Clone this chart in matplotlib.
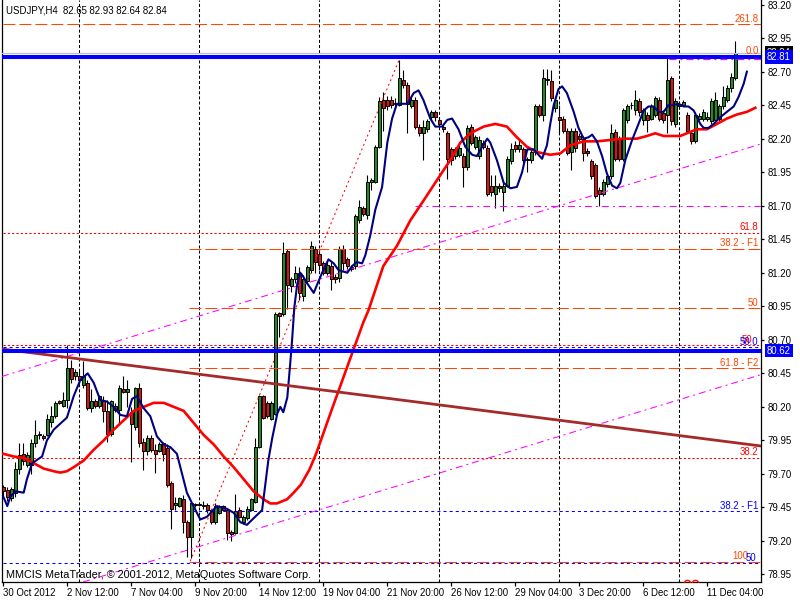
import matplotlib
matplotlib.use("Agg")
import matplotlib.pyplot as plt
import numpy as np

plt.rcParams['font.family'] = ['Liberation Sans', 'DejaVu Sans']
plt.rcParams['lines.scale_dashes'] = False

# ---------------- data ----------------
title_text = "USDJPY,H4  82.65 82.93 82.64 82.84"
copyright_text = "MMCIS MetaTrader, \u00a9 2001-2012, MetaQuotes Software Corp."

opens = [79.60, 79.58, 79.52, 79.56, 79.74, 79.85, 79.77, 79.77, 79.93, 79.99,
         79.98, 79.99, 80.09, 80.13, 80.24, 80.21, 80.25, 80.49, 80.43, 80.43,
         80.36, 80.38, 80.19, 80.24, 80.21, 80.24, 80.17, 80.00, 80.21, 80.18,
         80.33, 80.31, 80.16, 80.05, 80.34, 79.94, 79.87, 79.97, 79.88, 79.87,
         79.93, 79.89, 79.63, 79.47, 79.46, 79.51, 79.34, 79.23, 79.47, 79.47,
         79.46, 79.47, 79.43, 79.34, 79.41, 79.46, 79.43, 79.27, 79.26, 79.43,
         79.34, 79.37, 79.43, 79.49, 79.90, 80.28, 80.23, 80.11, 80.15, 80.90,
         80.89, 81.36, 81.10, 81.15, 81.20, 81.03, 81.14, 81.22, 81.38, 81.34,
         81.27, 81.20, 81.25, 81.17, 81.16, 81.38, 81.30, 81.24, 81.25, 81.59,
         81.68, 81.63, 81.88, 81.88, 82.14, 82.49, 82.49, 82.49, 82.46, 82.45,
         82.64, 82.60, 82.44, 82.49, 82.29, 82.24, 82.27, 82.36, 82.40, 82.34,
         82.29, 82.24, 82.12, 82.07, 82.08, 82.07, 81.99, 82.29, 82.14, 82.07,
         82.17, 82.13, 81.85, 81.79, 81.85, 81.80, 81.85, 82.03, 82.15, 82.12,
         82.12, 82.05, 82.04, 82.10, 82.44, 82.38, 82.64, 82.63, 82.43, 82.36,
         82.35, 82.26, 82.10, 82.26, 82.22, 82.20, 82.11, 82.03, 82.00, 81.82,
         81.79, 81.86, 81.92, 82.25, 82.20, 82.05, 82.34, 82.45, 82.41, 82.48,
         82.34, 82.38, 82.35, 82.38, 82.49, 82.39, 82.38, 82.65, 82.31, 82.46,
         82.45, 82.38, 82.24, 82.18, 82.35, 82.35, 82.35, 82.33, 82.34, 82.35,
         82.44, 82.49, 82.58, 82.65]
highs = [79.62, 79.60, 79.60, 79.79, 79.93, 79.93, 79.86, 79.96, 80.10, 80.02,
         80.00, 80.15, 80.21, 80.24, 80.25, 80.31, 80.66, 80.55, 80.48, 80.47,
         80.54, 80.40, 80.33, 80.26, 80.29, 80.28, 80.25, 80.25, 80.23, 80.36,
         80.43, 80.40, 80.20, 80.35, 80.38, 79.97, 79.99, 79.99, 79.92, 79.94,
         79.94, 79.92, 79.65, 79.53, 79.53, 79.54, 79.36, 79.49, 79.48, 79.48,
         79.50, 79.48, 79.44, 79.48, 79.47, 79.47, 79.44, 79.28, 79.55, 79.45,
         79.39, 79.46, 79.52, 79.97, 80.29, 80.29, 80.24, 80.24, 80.91, 80.91,
         81.43, 81.38, 81.17, 81.25, 81.24, 81.18, 81.26, 81.44, 81.40, 81.36,
         81.29, 81.28, 81.28, 81.19, 81.40, 81.41, 81.32, 81.26, 81.64, 81.74,
         81.70, 81.93, 81.91, 82.15, 82.51, 82.55, 82.52, 82.52, 82.50, 82.79,
         82.71, 82.62, 82.51, 82.51, 82.31, 82.34, 82.35, 82.41, 82.41, 82.36,
         82.31, 82.26, 82.14, 82.14, 82.15, 82.09, 82.30, 82.31, 82.23, 82.22,
         82.19, 82.15, 81.93, 81.93, 81.87, 81.87, 82.07, 82.17, 82.18, 82.19,
         82.14, 82.06, 82.12, 82.46, 82.46, 82.72, 82.72, 82.71, 82.52, 82.45,
         82.37, 82.28, 82.28, 82.28, 82.24, 82.22, 82.13, 82.05, 82.02, 81.84,
         81.90, 81.94, 82.31, 82.27, 82.22, 82.43, 82.46, 82.47, 82.56, 82.50,
         82.43, 82.40, 82.46, 82.52, 82.51, 82.41, 82.81, 82.67, 82.50, 82.48,
         82.49, 82.40, 82.26, 82.40, 82.39, 82.42, 82.40, 82.50, 82.55, 82.46,
         82.59, 82.60, 82.69, 82.93]
lows = [79.53, 79.50, 79.50, 79.53, 79.70, 79.77, 79.75, 79.70, 79.90, 79.96,
        79.95, 79.98, 80.05, 80.12, 80.22, 80.20, 80.19, 80.38, 80.40, 80.37,
        80.34, 80.18, 80.16, 80.19, 80.19, 80.09, 79.94, 79.98, 80.16, 80.08,
        80.30, 80.20, 79.79, 80.03, 79.90, 79.73, 79.84, 79.86, 79.71, 79.86,
        79.80, 79.60, 79.29, 79.43, 79.45, 79.26, 79.08, 79.07, 79.45, 79.46,
        79.44, 79.41, 79.33, 79.33, 79.40, 79.42, 79.21, 79.20, 79.25, 79.37,
        79.33, 79.36, 79.42, 79.48, 79.89, 80.11, 80.12, 80.10, 80.14, 80.72,
        80.88, 80.93, 81.06, 81.12, 81.00, 80.99, 81.12, 81.20, 81.20, 81.22,
        81.18, 81.18, 81.07, 81.12, 81.13, 81.22, 81.23, 81.21, 81.23, 81.57,
        81.62, 81.60, 81.82, 81.87, 82.13, 82.26, 82.41, 82.43, 82.43, 82.44,
        82.58, 82.24, 82.43, 82.27, 82.22, 82.04, 82.25, 82.34, 82.33, 82.29,
        82.25, 81.90, 82.00, 82.05, 82.06, 81.84, 81.97, 82.15, 82.12, 82.05,
        82.12, 81.77, 81.77, 81.68, 81.80, 81.66, 81.84, 82.01, 82.10, 82.10,
        82.02, 81.95, 82.02, 82.08, 82.36, 82.33, 82.60, 82.48, 82.40, 82.24,
        82.24, 82.08, 81.97, 82.10, 82.18, 82.03, 82.07, 81.90, 81.76, 81.70,
        81.77, 81.84, 81.90, 82.03, 82.03, 82.03, 82.32, 82.42, 82.38, 82.37,
        82.30, 82.25, 82.34, 82.36, 82.33, 82.32, 82.24, 82.30, 82.29, 82.42,
        82.44, 82.24, 82.16, 82.17, 82.34, 82.33, 82.33, 82.31, 82.32, 82.33,
        82.42, 82.47, 82.55, 82.64]
closes = [79.57, 79.53, 79.59, 79.74, 79.84, 79.80, 79.84, 79.93, 79.99, 80.00,
          79.97, 80.11, 80.13, 80.23, 80.23, 80.25, 80.49, 80.41, 80.46, 80.40,
          80.43, 80.19, 80.24, 80.21, 80.28, 80.17, 80.00, 80.24, 80.18, 80.34,
          80.31, 80.33, 80.07, 80.34, 79.93, 79.87, 79.97, 79.88, 79.85, 79.92,
          79.85, 79.62, 79.44, 79.48, 79.52, 79.34, 79.23, 79.48, 79.47, 79.47,
          79.47, 79.43, 79.34, 79.46, 79.46, 79.43, 79.26, 79.25, 79.42, 79.38,
          79.38, 79.44, 79.51, 79.90, 80.28, 80.12, 80.13, 80.23, 80.89, 80.88,
          81.35, 81.11, 81.15, 81.20, 81.05, 81.15, 81.24, 81.40, 81.28, 81.26,
          81.20, 81.26, 81.15, 81.15, 81.38, 81.27, 81.25, 81.23, 81.62, 81.69,
          81.64, 81.88, 81.89, 82.14, 82.48, 82.43, 82.44, 82.45, 82.46, 82.65,
          82.60, 82.46, 82.49, 82.29, 82.24, 82.29, 82.33, 82.40, 82.36, 82.31,
          82.27, 82.05, 82.04, 82.12, 82.13, 81.99, 82.28, 82.17, 82.21, 82.19,
          82.14, 81.79, 81.80, 81.85, 81.83, 81.85, 82.05, 82.12, 82.12, 82.15,
          82.04, 82.04, 82.10, 82.44, 82.38, 82.65, 82.64, 82.50, 82.49, 82.34,
          82.26, 82.09, 82.26, 82.13, 82.20, 82.09, 82.09, 81.92, 81.77, 81.79,
          81.88, 81.92, 82.24, 82.05, 82.05, 82.41, 82.44, 82.45, 82.49, 82.40,
          82.41, 82.34, 82.44, 82.50, 82.35, 82.34, 82.64, 82.33, 82.48, 82.44,
          82.47, 82.26, 82.18, 82.38, 82.37, 82.40, 82.36, 82.48, 82.49, 82.44,
          82.51, 82.58, 82.66, 82.84]

# fast moving average (navy), read as (bar, price)
fast_ma_bars = [0, 1, 1.75, 3.1, 5.1, 5.9, 7.2, 9.7, 10.9, 12.6, 15.9, 17.6, 19.25, 21.1,
                22.6, 24.25, 25.9, 27.6, 29.25, 30.9, 32.2, 33.4, 35.1, 36.75, 38.4, 40.1,
                41.75, 43.4, 44.7, 45.9, 47.2, 49.25, 50.9, 53.4, 55.9, 57.6, 59.25, 60.9,
                62.6, 64.7, 66.25, 67.25, 68.5, 69.25, 70, 71, 71.75, 72.25, 72.75, 73.5,
                74.25, 75, 76, 77.6, 79.7, 81.3, 82.6, 83.8, 86, 87.2, 88.4, 89.7, 90.5,
                91.75, 93, 94.7, 96, 97.2, 98.4, 101, 102.6, 103.8, 105, 106.75, 108,
                109.7, 111, 112.2, 113.8, 115.5, 117.2, 118.4, 119.7, 121, 121.75, 123.4,
                125.1, 126.75, 128.4, 129.7, 131, 132.6, 134.7, 135.9, 136.8, 137.6,
                138.8, 139.7, 140.9, 142.6, 143.8, 145.1, 146.3, 147.2, 148.4, 149.7,
                150.9, 152.2, 153.4, 154.25, 155.5, 157.2, 158.8, 160.1, 161.3, 162.6,
                163.8, 165.1, 166.3, 167.6, 168.8, 170.1, 171.3, 172.6, 174.25, 175.1,
                176.3, 177.6, 179.25, 180.9, 182.6, 183.8, 185.1, 185.9]
fast_ma_vals = [79.53, 79.46, 79.53, 79.57, 79.56, 79.66, 79.78, 79.83, 79.95, 80.03, 80.12,
                80.28, 80.40, 80.45, 80.38, 80.25, 80.24, 80.20, 80.14, 80.13, 80.26, 80.28,
                80.19, 80.13, 79.98, 79.92, 79.90, 79.85, 79.70, 79.56, 79.48, 79.36, 79.38,
                79.46, 79.44, 79.41, 79.34, 79.32, 79.37, 79.43, 79.80, 79.97, 80.15, 80.20,
                80.16, 80.27, 80.53, 80.72, 80.94, 81.12, 81.20, 81.17, 81.12, 81.05, 81.20,
                81.30, 81.27, 81.22, 81.20, 81.25, 81.28, 81.27, 81.33, 81.48, 81.67, 81.84,
                82.17, 82.35, 82.46, 82.46, 82.54, 82.56, 82.49, 82.35, 82.29, 82.29, 82.34,
                82.35, 82.27, 82.14, 82.08, 82.07, 82.14, 82.20, 82.17, 82.04, 81.87, 81.83,
                81.84, 81.95, 82.12, 82.12, 82.05, 82.15, 82.32, 82.45, 82.57, 82.59, 82.54,
                82.40, 82.28, 82.20, 82.21, 82.23, 82.18, 82.07, 81.94, 81.85, 81.83, 81.87,
                82.04, 82.19, 82.31, 82.41, 82.44, 82.44, 82.40, 82.40, 82.45, 82.45, 82.46,
                82.44, 82.44, 82.41, 82.31, 82.28, 82.28, 82.31, 82.36, 82.40, 82.44, 82.51,
                82.61, 82.70]

# slow moving average (red), read as (bar, price)
slow_ma_bars = [0, 2.6, 5.1, 7.6, 10.1, 12.6, 14.25, 15.9, 17.6, 20.1, 22.6, 25.1, 27.6,
                30.1, 32.6, 35.1, 37.6, 40.1, 42.6, 45.1, 47.6, 50.1, 52.6, 55.1, 57.6,
                60.1, 62.6, 65.1, 66.75, 68.4, 70.9, 72.6, 74.4, 76.5, 78.2, 82, 86, 90,
                91.3, 95, 98.4, 101.75, 105.1, 108.4, 111.75, 114.25, 116.75, 120.1, 123,
                125.9, 128.4, 130.9, 133.4, 136.75, 139.25, 141.75, 145.1, 148.4, 151.75,
                155.1, 158.4, 160.9, 163, 165.1, 169.25, 170.9, 173.4, 175.9, 178.4,
                180.9, 183.4, 185.9, 188]
slow_ma_vals = [79.85, 79.83, 79.82, 79.78, 79.74, 79.72, 79.71, 79.72, 79.75, 79.80, 79.88,
                79.95, 80.03, 80.10, 80.17, 80.20, 80.23, 80.23, 80.20, 80.17, 80.08, 79.99,
                79.92, 79.83, 79.75, 79.66, 79.57, 79.51, 79.48, 79.48, 79.51, 79.56, 79.62,
                79.73, 79.85, 80.17, 80.50, 80.83, 80.92, 81.25, 81.40, 81.59, 81.74, 81.89,
                82.04, 82.17, 82.24, 82.29, 82.31, 82.29, 82.21, 82.14, 82.10, 82.08, 82.09,
                82.15, 82.18, 82.18, 82.19, 82.20, 82.20, 82.22, 82.24, 82.22, 82.22, 82.24,
                82.27, 82.27, 82.31, 82.35, 82.38, 82.40, 82.43]

# x axis labels
date_label_bars = [0, 16, 32, 48, 64, 80, 96, 112, 128, 144, 160, 176]
date_labels = ["30 Oct 2012", "2 Nov 12:00", "7 Nov 04:00", "9 Nov 20:00", "14 Nov 12:00",
               "19 Nov 04:00", "21 Nov 20:00", "26 Nov 12:00", "29 Nov 04:00",
               "3 Dec 20:00", "6 Dec 12:00", "11 Dec 04:00"]
grid_bars = [19, 49, 79, 109, 139, 169]

# y axis ticks
price_ticks = [83.20, 82.95, 82.70, 82.45, 82.20, 81.95, 81.70, 81.45, 81.20, 80.95,
               80.70, 80.45, 80.20, 79.95, 79.70, 79.45, 79.20, 78.95]

# horizontal objects
blue_line_prices = [82.81, 80.62]
bid_price = 82.84

level_prices = [83.055, 82.81, 81.50, 81.38, 80.935, 80.66, 80.645, 80.488, 79.82, 79.42, 79.045, 79.035]
level_labels = ["261.8", "0.0", "61.8", "38.2 - F1", "50", "50", "50.0", "61.8 - F2", "38.2", "38.2 - F1", "100", "50"]
level_kinds = ["fibo", "fibo", "ret", "fibo", "fibo", "ret", "blue", "fibo", "ret", "blue", "fibo", "blue"]
level_start = [0, 46.5, 0, 46.5, 46.5, 0, 0, 46.5, 0, 0, 46.5, 0]
level_label_shift = [0, 0, 0, 0, 0, -4.6, 0, 0, 0, 0, -7.5, -1.5]

# trend lines (bar, price)
brown_trend = [(0, 80.63), (185, 79.925)]
channel_upper = [(0, 80.43), (185, 82.12)]
channel_lower = [(39.25, 79.07), (185, 80.40)]
fibo_trend = [(46.75, 79.05), (99, 82.79)]
magenta_h1 = (81.70, 103)   # price, start bar
magenta_h2 = (82.795, 166.5)
marker_bars = [171, 173]
marker_price = 78.885

# ---------------- drawing ----------------
ORANGE = '#FF4500'
RED = '#FF0000'
BLUE = '#0000FF'
MAGENTA = '#FF00FF'
NAVY = '#000080'
BROWN = '#A52A2A'
FS = 6.9

fig = plt.figure(figsize=(8, 6), dpi=100)
fig.patch.set_facecolor('white')
ax = fig.add_axes([2 / 800, 18 / 600, 759 / 800, 582 / 600])
XMIN, XMAX = -0.325, 189.425
ax.set_xlim(XMIN, XMAX)
ax.set_ylim(78.894, 83.234)
ax.set_facecolor('white')
for s in ['left', 'bottom', 'right']:
    ax.spines[s].set_color('black')
    ax.spines[s].set_linewidth(0.9)
ax.spines['top'].set_visible(False)

# grid
for gb in grid_bars:
    ax.axvline(gb, color='black', lw=0.75, dashes=(2.2, 1.5), zorder=1)

# candles
o = np.array(opens); h = np.array(highs); l = np.array(lows); c = np.array(closes)
x = np.arange(len(o))
ax.vlines(x, l, h, color='black', lw=0.8, zorder=3)
bull = c >= o
bottoms = np.minimum(o, c)
heights = np.maximum(np.abs(c - o), 0.004)
colors = np.where(bull, '#1E8C1E', '#E01010')
ax.bar(x, heights, bottom=bottoms, width=0.62, color=colors, edgecolor='black',
       linewidth=0.7, zorder=4)

# moving averages
ax.plot(slow_ma_bars, slow_ma_vals, color=RED, lw=1.9, zorder=6, solid_joinstyle='round')
ax.plot(fast_ma_bars, fast_ma_vals, color=NAVY, lw=1.5, zorder=6, solid_joinstyle='round')

# horizontal levels
for p, lab, kind, st, sh in zip(level_prices, level_labels, level_kinds, level_start, level_label_shift):
    if kind == 'fibo':
        col, dsh = ORANGE, (8.6, 2.9)
    elif kind == 'ret':
        col, dsh = RED, (1.6, 1.5)
    else:
        col, dsh = BLUE, (2.2, 2.2)
    ax.hlines(p, st, XMAX, colors=col, lw=0.75, zorder=5).set_dashes([(0, dsh)])
    ax.annotate(lab, xy=(1, p), xycoords=('axes fraction', 'data'),
                xytext=(-1.8 + sh, 0.3), textcoords='offset points',
                ha='right', va='bottom', color=col, fontsize=FS, zorder=8)

# magenta objects
ax.hlines(magenta_h1[0], magenta_h1[1], XMAX, colors=MAGENTA, lw=0.75, zorder=5).set_dashes([(0, (5.0, 2.9, 1.4, 2.9))])
ax.hlines(magenta_h2[0], magenta_h2[1], XMAX, colors=MAGENTA, lw=0.9, zorder=5).set_dashes([(0, (5.0, 2.9, 1.4, 2.9))])
ax.axline(channel_upper[0], channel_upper[1], color=MAGENTA, lw=0.75, dashes=(5.0, 2.9, 1.4, 2.9), zorder=5)
ax.axline(channel_lower[0], channel_lower[1], color=MAGENTA, lw=0.75, dashes=(5.0, 2.9, 1.4, 2.9), zorder=5)

# fibo trend (red dotted)
ax.plot([fibo_trend[0][0], fibo_trend[1][0]], [fibo_trend[0][1], fibo_trend[1][1]],
        color=RED, lw=0.75, dashes=(1.4, 2.2), zorder=5)

# brown trend line
ax.axline(brown_trend[0], brown_trend[1], color=BROWN, lw=2.0, zorder=6)

# bid line and blue horizontal lines
ax.axhline(bid_price, color='#C0C0C0', lw=0.9, zorder=5)
for bp in blue_line_prices:
    ax.axhline(bp, color=BLUE, lw=2.9, zorder=7)

# small red circles at bottom
ax.plot(marker_bars, [marker_price] * len(marker_bars), 'o', mfc='none', mec=RED,
        ms=4.5, mew=1.0, zorder=8, clip_on=True)

# axes ticks
ax.yaxis.tick_right()
ax.set_yticks(price_ticks)
ax.set_yticklabels(["%.2f" % v for v in price_ticks])
ax.tick_params(axis='y', which='both', right=True, left=False, direction='out',
               length=2.5, width=0.9, pad=2.0, labelsize=FS, colors='black')
ax.set_xticks(date_label_bars)
ax.set_xticklabels(date_labels)
for t in ax.get_xticklabels():
    t.set_horizontalalignment('left')
ax.tick_params(axis='x', direction='out', length=3, width=0.9, pad=1.0, labelsize=FS,
               colors='black')

# price boxes on axis
def axis_box(price, fc, z):
    ax.annotate("%.2f" % price, xy=(1, price), xycoords=('axes fraction', 'data'),
                xytext=(4.3, 0), textcoords='offset points', ha='left', va='center',
                color='white', fontsize=FS, annotation_clip=False, zorder=z,
                bbox=dict(boxstyle='square,pad=0.18', fc=fc, ec='none'))

axis_box(bid_price, 'black', 9)
for bp in blue_line_prices:
    axis_box(bp, BLUE, 10)

# texts
fig.text(6 / 800, 1 - 10.5 / 600, title_text, ha='left', va='center', fontsize=FS, color='black')
fig.text(6 / 800, 1 - 575.5 / 600, copyright_text, ha='left', va='center', fontsize=7.8, color='black')

fig.savefig('out.png', dpi=100, facecolor='white')
